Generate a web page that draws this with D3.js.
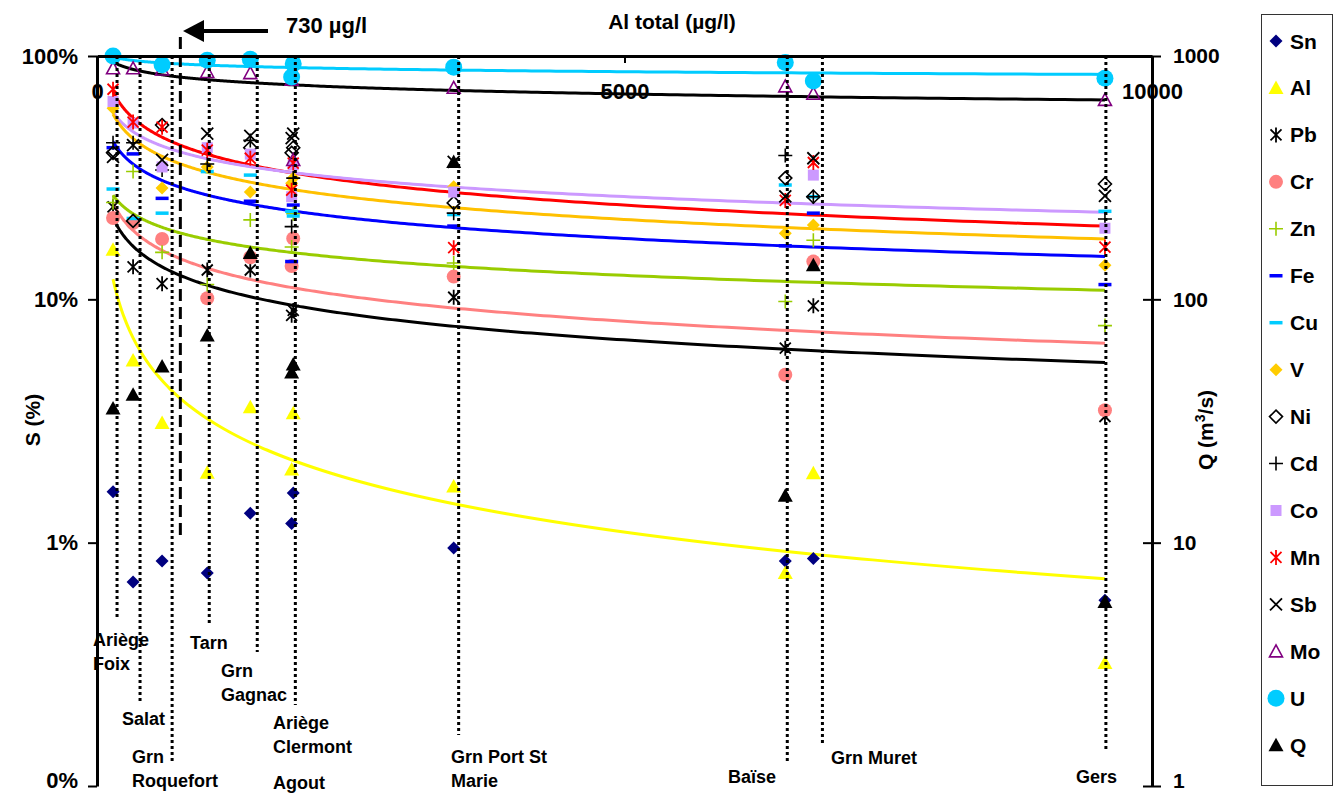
<!DOCTYPE html>
<html><head><meta charset="utf-8">
<script src="https://cdn.jsdelivr.net/npm/d3@7"></script>
<style>
body{margin:0;background:#fff}
text{font-family:"Liberation Sans",Arial,sans-serif;font-weight:bold;fill:#000}
</style>
</head><body>
<svg id="chart" width="1335" height="795"></svg>
<script>
// ---------- DATA ----------
const stations = ["Ariège Foix","Salat","Grn Roquefort","Tarn","Grn Gagnac","Ariège Clermont","Agout","Grn Port St Marie","Baïse","Grn Muret","Gers"];
const stationAl = [152, 342, 617, 1045, 1453, 1860, 1845, 3381, 6524, 6790, 9554]; // Al total (µg/l)

// S (%) per element, one value per station (null = not visible)
const Sn = [1.62, 0.69, 0.84, 0.75, 1.32, 1.6, 1.2, 0.95, 0.84, 0.86, 0.58];
const Al = [16, 5.6, 3.1, 1.94, 3.6, 3.4, 2.0, 1.7, 0.75, 1.93, 0.32];
const Pb = [24, 13.6, 11.6, 13.2, 13.2, 9.0, 8.6, 10.2, 6.3, 9.4, 3.3];
const Cr = [21.6, 20.6, 17.7, 10.1, 14.9, 17.8, 13.7, 12.4, 4.9, 14.3, 3.5];
const Zn = [25, 33.5, 15.6, 11.5, 21.2, 22.5, 16.4, 14.1, 9.8, 17.5, 7.8];
const Fe = [42, 39.6, 26, null, 25.3, 24.4, 14.3, 20, 16.6, 22.6, 11.5];
const Cu = [28.4, 21.5, 22.6, 33.5, 32.4, 22, 23, 22.3, 29.5, 26.4, 23];
const V  = [61, null, 28.7, 35, 27.6, 31.5, 30, 29, 18.7, 20.2, 13.8];
const Ni = [40, 21, 52, null, 42, 42, 40, 24.9, 31.5, 26.4, 29.8];
const Cd = [44, 44, 34, 36, 45, 31.5, 19.9, 22.6, 39, 26.4, 21.4];
const Co = [65, 53, 35, 42, 39.5, 35.7, 26.4, 27.6, null, 32.4, 19.6];
const Mn = [73, 53.5, 51, 41, 38, 36.3, 28.1, 16.3, 25.5, 36.5, 16.4];
const Sb = [38.5, 43, 37.4, 48, 47, 48, 46, 36.7, 26.5, 38, 26.6];
const Mo = [89, 89, 88, 86, 85, 37.4, 80, 74, 75, 70, 66];
const U  = [100, null, 92, 96, 97, 93, 82, 90, 94, 79, 81];
const Q  = [35.6, 40.5, 53, 71, 155, 54, 50, 367, 15.6, 138, 5.7]; // m³/s (right axis)

const seriesNames = ["Sn","Al","Pb","Cr","Zn","Fe","Cu","V","Ni","Cd","Co","Mn","Sb","Mo","U","Q"];
const seriesValues = [Sn, Al, Pb, Cr, Zn, Fe, Cu, V, Ni, Cd, Co, Mn, Sb, Mo, U, Q];

// Power-law trend lines (Excel "puissance"), read at Al = 152 and Al = 9554 µg/l
const trendNames  = ["U","Mo","Mn","Co","V","Fe","Zn","Cr","Pb","Al"];
const trendFrom   = [99, 94.5, 71.3, 58.8, 57.7, 44.5, 26.8, 24.9, 21.6, 12.1];
const trendTo     = [84, 66, 20.0, 22.8, 17.7, 15.0, 10.9, 6.6, 5.5, 0.71];
const trendAlRange = [152, 9554];

// station guide lines (Al position of the dotted lines)
const guideAl = [190, 408, 712, 1064, 1519, 1880, 3428, 6543, 6876, 9563];
const labelLines = [["Ariège","Foix"],["Salat"],["Grn","Roquefort"],["Tarn"],["Grn","Gagnac"],["Ariège","Clermont"],["Agout"],["Grn Port St","Marie"],["Baïse"],["Grn Muret"],["Gers"]];

// axes
const xTicks = [0, 5000, 10000];
const leftTicks = [0.1, 1, 10, 100];
const leftTickLabels = ["0%", "1%", "10%", "100%"];
const rightTicks = [1, 10, 100, 1000];
const markAl = 790; // "730 µg/l" dashed marker

// ---------- STYLE / LAYOUT ----------
const styles = {
  Sn:{shape:"diamond",color:"#000080"}, Al:{shape:"triangle",color:"#FFFF00"},
  Pb:{shape:"star",color:"#000"}, Cr:{shape:"circle",color:"#FF8080"},
  Zn:{shape:"plus",color:"#99CC00"}, Fe:{shape:"dash",color:"#0000FF"},
  Cu:{shape:"dash",color:"#00CCFF"}, V:{shape:"diamond",color:"#FFCC00"},
  Ni:{shape:"hdiamond",color:"#000"}, Cd:{shape:"plus",color:"#000"},
  Co:{shape:"square",color:"#CC99FF"}, Mn:{shape:"star",color:"#FF0000"},
  Sb:{shape:"cross",color:"#000"}, Mo:{shape:"htriangle",color:"#800080"},
  U:{shape:"bigcircle",color:"#00CCFF"}, Q:{shape:"triangle",color:"#000"}
};
const trendColors = ["#00CCFF","#000000","#FF0000","#CC99FF","#FFC000","#0000FF","#99CC00","#FF8080","#000000","#FFFF00"];
const guideBottom = [620, 703, 763, 625, 652, 705, 735, 762, 745, 752];
const labelPos = [[93,646],[122,725],[132,763],[190,649],[221,677],[273,729],[273,789],[451,763],[728,783],[831,764],[1076,783]];

const L = 97, R = 1152, T = 56, B = 786;
const svg = d3.select("#chart");

const x = d3.scaleLinear().domain([0, 10000]).range([L, R]);
const y = d3.scaleLog().domain([0.1, 100]).range([B, T]);
const yQ = d3.scaleLog().domain([1, 1000]).range([B, T]);

function marker(g, shape, color) {
  switch (shape) {
    case "diamond": g.append("path").attr("d","M0,-6.5L6.5,0L0,6.5L-6.5,0Z").attr("fill",color); break;
    case "triangle": g.append("path").attr("d","M0,-7.5L7.5,6L-7.5,6Z").attr("fill",color); break;
    case "star": g.append("path").attr("d","M-5.5,-5.5L5.5,5.5M-5.5,5.5L5.5,-5.5M0,-7.5L0,7.5").attr("stroke",color).attr("stroke-width",1.8).attr("fill","none"); break;
    case "circle": g.append("circle").attr("r",7).attr("fill",color); break;
    case "bigcircle": g.append("circle").attr("r",8.5).attr("fill",color); break;
    case "plus": g.append("path").attr("d","M-7,0L7,0M0,-7L0,7").attr("stroke",color).attr("stroke-width",1.6).attr("fill","none"); break;
    case "dash": g.append("rect").attr("x",-6.5).attr("y",-1.75).attr("width",13).attr("height",3.5).attr("fill",color); break;
    case "hdiamond": g.append("path").attr("d","M0,-6.5L6.5,0L0,6.5L-6.5,0Z").attr("fill","none").attr("stroke",color).attr("stroke-width",1.6); break;
    case "square": g.append("rect").attr("x",-5.5).attr("y",-5.5).attr("width",11).attr("height",11).attr("fill",color); break;
    case "cross": g.append("path").attr("d","M-6,-6L6,6M-6,6L6,-6").attr("stroke",color).attr("stroke-width",1.8).attr("fill","none"); break;
    case "htriangle": g.append("path").attr("d","M0,-6.5L6.5,5.5L-6.5,5.5Z").attr("fill","none").attr("stroke",color).attr("stroke-width",1.6); break;
  }
}

// ---------- TREND LINES ----------
const line = d3.line().x(d => x(d[0])).y(d => y(d[1]));
trendNames.forEach((n, i) => {
  const [x0, x1] = trendAlRange;
  const b = Math.log(trendTo[i] / trendFrom[i]) / Math.log(x1 / x0);
  const pts = d3.range(0, 301).map(k => {
    const xv = x0 * Math.pow(x1 / x0, k / 300);
    return [xv, trendFrom[i] * Math.pow(xv / x0, b)];
  });
  svg.append("path").attr("d", line(pts)).attr("fill","none")
     .attr("stroke", trendColors[i]).attr("stroke-width", 3);
});

// ---------- MARKERS ----------
seriesNames.forEach((n, si) => {
  const st = styles[n];
  seriesValues[si].forEach((v, k) => {
    if (v == null) return;
    const py = n === "Q" ? yQ(v) : y(v);
    const g = svg.append("g").attr("transform", `translate(${x(stationAl[k])},${py})`);
    marker(g, st.shape, st.color);
  });
});

// ---------- STATION GUIDES ----------
guideAl.forEach((a, i) => {
  svg.append("line").attr("x1", x(a)).attr("x2", x(a)).attr("y1", T).attr("y2", guideBottom[i])
     .attr("stroke","#000").attr("stroke-width",3).attr("stroke-dasharray","3,3");
});
labelLines.forEach((ls, i) => {
  ls.forEach((t, j) => {
    svg.append("text").attr("x", labelPos[i][0]).attr("y", labelPos[i][1] + j*24)
       .attr("font-size", 18).text(t);
  });
});

// 730 µg/l marker
svg.append("line").attr("x1", x(markAl)).attr("x2", x(markAl)).attr("y1", 37).attr("y2", 537)
   .attr("stroke","#000").attr("stroke-width",3).attr("stroke-dasharray","12,6");
svg.append("line").attr("x1", 268).attr("x2", 200).attr("y1", 31).attr("y2", 31)
   .attr("stroke","#000").attr("stroke-width",4);
svg.append("path").attr("d","M183,31L204,20L204,42Z").attr("fill","#000");
svg.append("text").attr("x", 286).attr("y", 33).attr("font-size", 22).text("730 µg/l");

// ---------- AXES ----------
const topAx = svg.append("g").attr("transform", `translate(0,${T})`)
  .call(d3.axisBottom(x).tickValues(xTicks).tickSize(7).tickSizeOuter(0).tickFormat(d3.format("d")));
topAx.selectAll("text").attr("y", 27).attr("font-size", 22).style("font-family", "Liberation Sans, Arial").style("font-weight","bold");

const leftAx = svg.append("g").attr("transform", `translate(${L},0)`)
  .call(d3.axisLeft(y).tickValues(leftTicks).tickSize(9).tickPadding(10).tickSizeOuter(0)
        .tickFormat((d, i) => leftTickLabels[i]));
leftAx.selectAll("text").attr("font-size", 22).style("font-family", "Liberation Sans, Arial").style("font-weight","bold");

const rightAx = svg.append("g").attr("transform", `translate(${R},0)`)
  .call(d3.axisRight(yQ).tickValues(rightTicks).tickSize(9).tickPadding(12).tickSizeOuter(0)
        .tickFormat(d3.format("d")));
rightAx.selectAll(".tick line").attr("x1", -9);
rightAx.selectAll("text").attr("font-size", 21).style("font-family", "Liberation Sans, Arial").style("font-weight","bold");

// keep the lowest tick labels inside the picture
leftAx.selectAll(".tick text").filter(d => d === 0.1).attr("dy", "0.05em");
rightAx.selectAll(".tick text").filter(d => d === 1).attr("dy", "0.05em");

[topAx, leftAx, rightAx].forEach(a => {
  a.select(".domain").attr("stroke","#000").attr("stroke-width",3);
  a.selectAll(".tick line").attr("stroke","#000").attr("stroke-width",2);
  a.selectAll("text").attr("fill","#000");
});

svg.append("text").attr("x", 672).attr("y", 29).attr("text-anchor","middle").attr("font-size",21).text("Al total (µg/l)");
svg.append("text").attr("transform","translate(40,420) rotate(-90)").attr("text-anchor","middle").attr("font-size",21).text("S (%)");
const qt = svg.append("text").attr("transform","translate(1213,430) rotate(-90)").attr("text-anchor","middle").attr("font-size",21);
qt.append("tspan").text("Q (m");
qt.append("tspan").attr("dy",-8).attr("font-size",14).text("3");
qt.append("tspan").attr("dy",8).text("/s)");

// ---------- LEGEND ----------
const leg = svg.append("g");
leg.append("rect").attr("x",1261.5).attr("y",14.5).attr("width",71).attr("height",771)
   .attr("fill","#fff").attr("stroke","#333").attr("stroke-width",1);
seriesNames.forEach((n, i) => {
  const yy = 41 + i * 46.95;
  const g = leg.append("g").attr("transform", `translate(1276,${yy})`);
  marker(g, styles[n].shape, styles[n].color);
  leg.append("text").attr("x", 1290).attr("y", yy + 7.5).attr("font-size", 21).text(n);
});
</script>
</body></html>
